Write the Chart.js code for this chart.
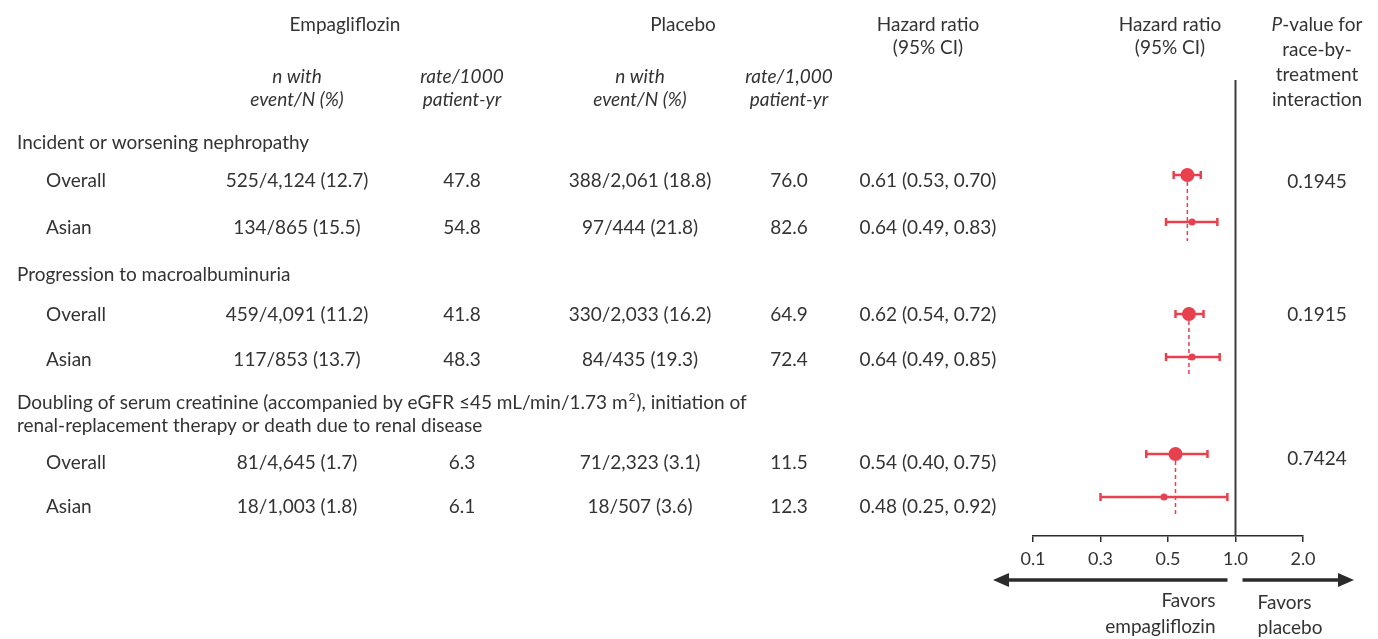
<!DOCTYPE html>
<html>
<head>
<meta charset="utf-8">
<script src="https://cdn.jsdelivr.net/npm/chart.js@4.4.1/dist/chart.umd.min.js"></script>
<style>
  html, body { margin: 0; padding: 0; background: #fff; }
  canvas { display: block; }
</style>
</head>
<body>
<canvas id="forest" width="1378" height="639"></canvas>
<script>
// table data
const outcomes = [
  ['Incident or worsening nephropathy'],
  ['Progression to macroalbuminuria'],
  ['Doubling of serum creatinine (accompanied by eGFR \u226445 mL/min/1.73 m', 'renal-replacement therapy or death due to renal disease'],
];
const subgroups = ['Overall', 'Asian', 'Overall', 'Asian', 'Overall', 'Asian'];
const empaEvents = ['525/4,124 (12.7)', '134/865 (15.5)', '459/4,091 (11.2)', '117/853 (13.7)', '81/4,645 (1.7)', '18/1,003 (1.8)'];
const empaRate = [47.8, 54.8, 41.8, 48.3, 6.3, 6.1];
const placeboEvents = ['388/2,061 (18.8)', '97/444 (21.8)', '330/2,033 (16.2)', '84/435 (19.3)', '71/2,323 (3.1)', '18/507 (3.6)'];
const placeboRate = [76.0, 82.6, 64.9, 72.4, 11.5, 12.3];
const hazard = [0.61, 0.64, 0.62, 0.64, 0.54, 0.48];
const ciLow = [0.53, 0.49, 0.54, 0.49, 0.40, 0.25];
const ciHigh = [0.70, 0.83, 0.72, 0.85, 0.75, 0.92];
const pInteraction = ['0.1945', '0.1915', '0.7424'];

// x axis: log2 scale, ticks sit at 0.125..2 but carry the printed labels
const tickPositions = [0.125, 0.25, 0.5, 1, 2];
const tickLabels = ['0.1', '0.3', '0.5', '1.0', '2.0'];

// layout (page rows, same units as the hidden y scale)
const yTop = 80, yAxis = 536;
const markY = [175, 222, 314, 357, 454, 497];
const rowTextY = [181, 228, 315, 360, 463, 507];
const outcomeY = [[143], [275], [403, 426]];
const pY = [182, 315, 459];
const col = { label: 17, sub: 46, empaN: 297, empaRate: 462, placN: 640, placRate: 789, hr: 928, hr2: 1170, p: 1317 };

const RED = '#e8404e';
const INK = '#333333';
const FONT = 'Lato, "Open Sans", sans-serif';
const FS = 19;

const datasets = [];

// confidence intervals with end caps
hazard.forEach((h, i) => {
  datasets.push({
    data: [{ x: ciLow[i], y: markY[i] }, { x: ciHigh[i], y: markY[i] }],
    showLine: true,
    borderColor: RED,
    borderWidth: 2.5,
    pointStyle: 'line',
    rotation: 90,
    pointRadius: 4,
    pointBorderWidth: 2.5,
    pointBorderColor: RED,
    order: 2,
  });
});

// dashed line down from each overall estimate
outcomes.forEach((o, k) => {
  datasets.push({
    data: [{ x: hazard[2 * k], y: markY[2 * k] }, { x: hazard[2 * k], y: markY[2 * k + 1] + 19 }],
    showLine: true,
    borderColor: RED,
    borderWidth: 1.5,
    borderDash: [4, 3],
    pointRadius: 0,
    order: 1,
  });
});

// point estimates
datasets.push({
  data: hazard.map((h, i) => ({ x: h, y: markY[i] })),
  backgroundColor: RED,
  borderColor: RED,
  borderWidth: 0,
  pointRadius: subgroups.map(s => (s === 'Overall' ? 7 : 3.5)),
  order: 0,
});

// line of no effect
datasets.push({
  data: [{ x: 1, y: yTop }, { x: 1, y: yAxis }],
  showLine: true,
  borderColor: '#3d3d3d',
  borderWidth: 2,
  pointRadius: 0,
  order: 3,
});

const font = (size, italic) => (italic ? 'italic ' : '') + size + 'px ' + FONT;

const tablePlugin = {
  id: 'table',
  afterDraw(chart) {
    const ctx = chart.ctx;
    const ys = chart.scales.y;
    const xs = chart.scales.x;
    const Y = v => ys.getPixelForValue(v);

    ctx.save();
    ctx.fillStyle = INK;
    ctx.textBaseline = 'middle';

    const put = (s, x, y, align, italic, size) => {
      ctx.font = font(size || FS, italic);
      ctx.textAlign = align || 'center';
      ctx.fillText(s, x, Y(y));
    };

    // column headers
    put('Empagliflozin', 345, 25);
    put('Placebo', 683, 25);
    put('Hazard ratio', col.hr, 25);
    put('(95% CI)', col.hr, 48);
    put('Hazard ratio', col.hr2, 25);
    put('(95% CI)', col.hr2, 48);
    put('n with', col.empaN, 77, 'center', true);
    put('event/N (%)', col.empaN, 100, 'center', true);
    put('rate/1000', col.empaRate, 77, 'center', true);
    put('patient-yr', col.empaRate, 100, 'center', true);
    put('n with', col.placN, 77, 'center', true);
    put('event/N (%)', col.placN, 100, 'center', true);
    put('rate/1,000', col.placRate, 77, 'center', true);
    put('patient-yr', col.placRate, 100, 'center', true);

    // "P-value for" with italic P
    ctx.font = font(FS, true);
    const wP = ctx.measureText('P').width;
    ctx.font = font(FS, false);
    const wRest = ctx.measureText('-value for').width;
    const startP = col.p - (wP + wRest) / 2;
    put('P', startP, 25, 'left', true);
    put('-value for', startP + wP, 25, 'left');
    put('race-by-', col.p, 50);
    put('treatment', col.p, 75);
    put('interaction', col.p, 100);

    // outcome headings
    outcomes.forEach((lines, k) => {
      lines.forEach((line, j) => {
        put(line, col.label, outcomeY[k][j], 'left');
        if (k === 2 && j === 0) {
          ctx.font = font(FS, false);
          const w = ctx.measureText(line).width;
          put('2', col.label + w + 1, outcomeY[k][j] - 6, 'left', false, 12);
          ctx.font = font(12, false);
          const w2 = ctx.measureText('2').width;
          put('), initiation of', col.label + w + w2 + 2, outcomeY[k][j], 'left');
        }
      });
    });

    // subgroup rows
    subgroups.forEach((s, i) => {
      const y = rowTextY[i];
      put(s, col.sub, y, 'left');
      put(empaEvents[i], col.empaN, y);
      put(empaRate[i].toFixed(1), col.empaRate, y);
      put(placeboEvents[i], col.placN, y);
      put(placeboRate[i].toFixed(1), col.placRate, y);
      put(hazard[i].toFixed(2) + ' (' + ciLow[i].toFixed(2) + ', ' + ciHigh[i].toFixed(2) + ')', col.hr, y);
    });
    pInteraction.forEach((p, k) => put(p, col.p, pY[k]));

    // direction arrows under the axis
    const x1 = xs.getPixelForValue(1);
    const ay = 580;
    const arrow = (from, to) => {
      const dir = Math.sign(to - from);
      ctx.strokeStyle = '#2b2b2b';
      ctx.fillStyle = '#2b2b2b';
      ctx.lineWidth = 3.5;
      ctx.beginPath();
      ctx.moveTo(from, Y(ay));
      ctx.lineTo(to - dir * 12, Y(ay));
      ctx.stroke();
      ctx.beginPath();
      ctx.moveTo(to, Y(ay));
      ctx.lineTo(to - dir * 16, Y(ay) - 7);
      ctx.lineTo(to - dir * 16, Y(ay) + 7);
      ctx.closePath();
      ctx.fill();
    };
    arrow(x1 - 8, chart.chartArea.left - 40);
    arrow(x1 + 7, chart.chartArea.right + 51);

    ctx.fillStyle = INK;
    put('Favors', x1 - 20, 601, 'right');
    put('empagliflozin', x1 - 20, 627, 'right');
    put('Favors', x1 + 22, 603, 'left');
    put('placebo', x1 + 22, 628, 'left');

    ctx.restore();
  },
};

new Chart(document.getElementById('forest'), {
  type: 'scatter',
  data: { datasets },
  options: {
    responsive: false,
    animation: false,
    devicePixelRatio: 1,
    layout: { padding: { left: 1033, right: 75, top: yTop, bottom: 639 - yAxis - 40 } },
    plugins: { legend: { display: false }, tooltip: { enabled: false } },
    scales: {
      x: {
        type: 'logarithmic',
        min: tickPositions[0],
        max: tickPositions[tickPositions.length - 1],
        afterBuildTicks: s => { s.ticks = tickPositions.map(v => ({ value: v })); },
        afterFit: s => { s.height = 40; },
        ticks: {
          autoSkip: false,
          maxRotation: 0,
          padding: 6,
          color: INK,
          font: { family: FONT, size: 18 },
          callback: (v, i) => tickLabels[i],
        },
        grid: { drawOnChartArea: false, drawTicks: true, tickLength: 6, color: '#2b2b2b', lineWidth: 1.5 },
        border: { display: true, color: '#2b2b2b', width: 1.5 },
      },
      y: {
        type: 'linear',
        display: false,
        reverse: true,
        min: yTop,
        max: yAxis,
      },
    },
  },
  plugins: [tablePlugin],
});
</script>
</body>
</html>
